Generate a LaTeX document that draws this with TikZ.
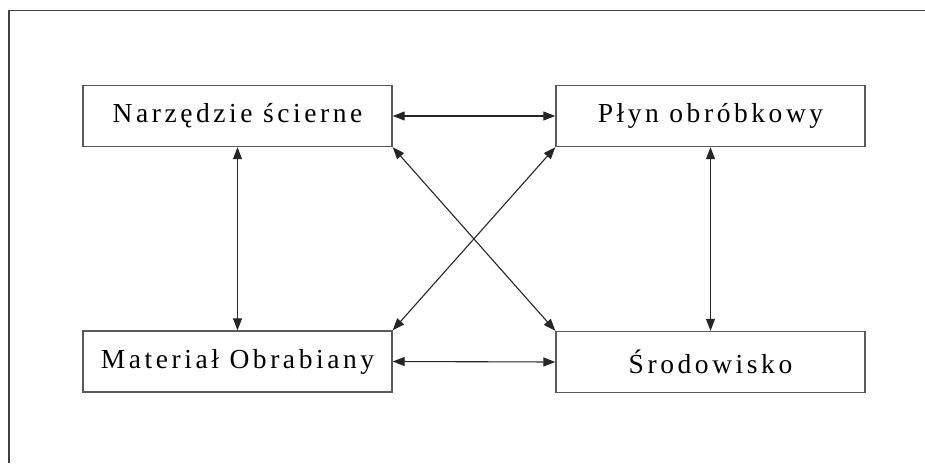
\documentclass[tikz,border=0pt]{standalone}
\usepackage{fontspec}
\setmainfont{Liberation Serif}
\newfontfamily\lblfont[LetterSpace=13]{Liberation Serif}
\usetikzlibrary{arrows.meta}
\begin{document}
\begin{tikzpicture}[x=1pt,y=-1pt,
  box/.style={draw=black!65,line width=1.4pt,minimum width=309pt,minimum height=61pt,inner sep=0pt,
    font=\lblfont\fontsize{27.5}{32}\selectfont,text=black},
  link/.style={draw=black!85,line width=1.1pt,{Triangle[length=12pt,width=9pt]}-{Triangle[length=12pt,width=9pt]},shorten <=0pt,shorten >=0pt},
  frame/.style={draw=black!75,line width=1.5pt}]
\useasboundingbox (0,0) rectangle (925,463);
\fill[white] (0,0) rectangle (925,463);
\coordinate (fb) at (9,463);
\coordinate (fc) at (9,10.5);
\coordinate (fr) at (925,10.5);
\draw[frame] (fb) -- (fc) -- (fr);
\node[box] (nar) at (237.5,116) {Narzędzie ścierne};
\node[box] (ply) at (710.5,116) {Płyn obróbkowy};
\node[box] (mat) at (237.5,361.5) {Materiał Obrabiany};
\node[box] (sro) at (710.5,362) {Środowisko};
\draw[link] (nar.east) -- (ply.west);
\draw[link] (mat.east) -- (sro.west);
\draw[link] (nar.south) -- (mat.north);
\draw[link] (ply.south) -- (sro.north);
\draw[link] (nar.south east) -- (sro.north west);
\draw[link] (ply.south west) -- (mat.north east);
\end{tikzpicture}
\end{document}
